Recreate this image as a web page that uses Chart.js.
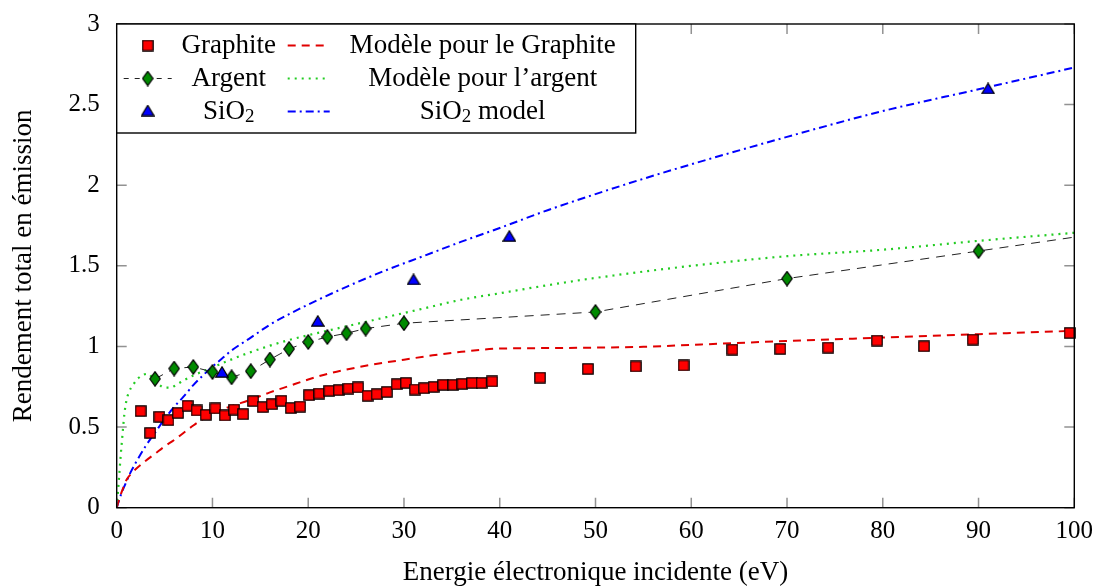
<!DOCTYPE html>
<html>
<head>
<meta charset="utf-8">
<script src="https://cdn.jsdelivr.net/npm/chart.js@4.4.0/dist/chart.umd.min.js"></script>
<style>
  html, body { margin: 0; padding: 0; background: #fff; }
</style>
</head>
<body>
<canvas id="chart" width="1097" height="586"></canvas>
<script>
// Values
const graphiteX = [2.5, 3.5, 4.45, 5.4, 6.4, 7.4, 8.35, 9.3, 10.3, 11.3, 12.25, 13.2, 14.25, 15.25, 16.2, 17.2, 18.2, 19.15, 20.1,
                   21.15, 22.2, 23.2, 24.2, 25.2, 26.2, 27.15, 28.2, 29.25, 30.2, 31.15, 32.1, 33.1, 34.1, 35.15, 36.1, 37.1, 38.1, 39.2,
                   44.2, 49.2, 54.2, 59.2, 64.3, 69.3, 74.3, 79.4, 84.3, 89.4, 99.5];
const graphiteY = [0.599, 0.464, 0.564, 0.543, 0.588, 0.632, 0.603, 0.576, 0.616, 0.572, 0.609, 0.580, 0.661, 0.624, 0.642, 0.663, 0.618, 0.627, 0.698,
                   0.708, 0.725, 0.729, 0.739, 0.746, 0.694, 0.704, 0.718, 0.766, 0.774, 0.733, 0.741, 0.749, 0.762, 0.762, 0.768, 0.774, 0.774, 0.783,
                   0.807, 0.861, 0.876, 0.882, 0.981, 0.985, 0.993, 1.037, 1.001, 1.043, 1.084];

// last point = where the dashed line leaves the frame (no marker there)
const argentX = [4, 6, 8, 10, 12, 14, 16, 18, 20, 22, 24, 26, 30, 50, 70, 90, 100];
const argentY = [0.799, 0.863, 0.873, 0.842, 0.809, 0.847, 0.919, 0.985, 1.028, 1.059, 1.082, 1.111, 1.144, 1.214, 1.421, 1.592, 1.678];

const sio2X = [11, 21, 31, 41, 91];
const sio2Y = [0.842, 1.158, 1.416, 1.685, 2.60];

const modelGraphiteX = [0, 0.3, 0.6, 1, 1.5, 2, 3, 4, 5, 6, 7, 8, 9, 10, 12, 14, 16, 18, 20, 22, 24, 26, 28, 30, 33, 36, 40, 45, 50, 55, 60, 70, 80, 90, 100];
const modelGraphiteY = [0, 0.06, 0.11, 0.17, 0.21, 0.24, 0.29, 0.335, 0.38, 0.42, 0.465, 0.51, 0.55, 0.585, 0.63, 0.67, 0.715, 0.755, 0.795, 0.83, 0.857, 0.88, 0.9, 0.918, 0.945, 0.967, 0.987, 0.99, 0.993, 0.998, 1.01, 1.034, 1.055, 1.076, 1.097];

const modelArgentX = [0, 0.2, 0.4, 0.6, 0.8, 1, 1.3, 1.7, 2.2, 2.8, 3.3, 3.8, 4.4, 5, 5.6, 6.3, 7, 8, 10, 12, 14, 16, 18, 20, 24, 28, 32, 36, 40, 45, 50, 60, 70, 80, 90, 100];
const modelArgentY = [0, 0.15, 0.31, 0.45, 0.58, 0.66, 0.72, 0.76, 0.80, 0.825, 0.83, 0.80, 0.765, 0.745, 0.745, 0.765, 0.79, 0.82, 0.87, 0.92, 0.965, 1.005, 1.04, 1.07, 1.125, 1.18, 1.235, 1.29, 1.33, 1.38, 1.425, 1.50, 1.56, 1.60, 1.655, 1.705];

const modelSio2X = [0, 0.5, 1, 1.5, 2, 3, 4, 5, 6, 7, 8, 9, 10, 11, 12, 14, 16, 18, 20, 24, 28, 32, 36, 40, 45, 50, 55, 60, 70, 80, 90, 100];
const modelSio2Y = [0, 0.09, 0.16, 0.225, 0.28, 0.38, 0.465, 0.55, 0.625, 0.69, 0.76, 0.82, 0.875, 0.925, 0.975, 1.055, 1.135, 1.2, 1.26, 1.37, 1.47, 1.56, 1.65, 1.735, 1.845, 1.945, 2.04, 2.13, 2.30, 2.46, 2.595, 2.73];

const xTicks = [0, 10, 20, 30, 40, 50, 60, 70, 80, 90, 100];
const yTicks = [0, 0.5, 1, 1.5, 2, 2.5, 3];

const FONT = '"Liberation Serif", "Times New Roman", serif';

const pts = (xs, ys) => xs.map((x, i) => ({ x: x, y: ys[i] }));

// marker images (pgfplots style: filled with black outline)
function makeMarker(w, h, drawShape, fill) {
    const c = document.createElement('canvas');
    c.width = w; c.height = h;
    const g = c.getContext('2d');
    g.beginPath();
    drawShape(g, w, h);
    g.closePath();
    g.fillStyle = fill;
    g.fill();
    g.lineWidth = 1.2;
    g.strokeStyle = '#000';
    g.stroke();
    return c;
}
const squareMark = makeMarker(12, 12, (g, w, h) => g.rect(0.8, 0.8, w - 1.6, h - 1.6), '#ff0000');
const diamondMark = makeMarker(12, 16, (g, w, h) => {
    g.moveTo(w / 2, 0.8); g.lineTo(w - 0.8, h / 2); g.lineTo(w / 2, h - 0.8); g.lineTo(0.8, h / 2);
}, '#008a00');
const triangleMark = makeMarker(14, 12, (g, w, h) => {
    g.moveTo(w / 2, 0.8); g.lineTo(w - 0.8, h - 0.8); g.lineTo(0.8, h - 0.8);
}, '#0000ff');

// text with a subscript part, e.g. SiO2
function drawParts(ctx, parts, cx, cy) {
    let total = 0;
    parts.forEach(p => {
        ctx.font = (p.sub ? '19px ' : '27px ') + FONT;
        p.w = ctx.measureText(p.t).width;
        total += p.w;
    });
    let x = cx - total / 2;
    ctx.textAlign = 'left';
    ctx.textBaseline = 'middle';
    parts.forEach(p => {
        ctx.font = (p.sub ? '19px ' : '27px ') + FONT;
        ctx.fillText(p.t, x, cy + (p.sub ? 6 : 0));
        x += p.w;
    });
}

// frame, inward ticks and the two-column legend
const framePlugin = {
    id: 'frame',
    afterDatasetsDraw(chart) {
        const ctx = chart.ctx;
        const a = chart.chartArea;
        const xs = chart.scales.x, ys = chart.scales.y;
        ctx.save();
        ctx.strokeStyle = 'rgba(110,110,110,0.75)';
        ctx.lineWidth = 1.5;
        const tl = 10;
        xTicks.forEach(v => {
            const px = xs.getPixelForValue(v);
            ctx.beginPath();
            ctx.moveTo(px, a.bottom); ctx.lineTo(px, a.bottom - tl);
            ctx.moveTo(px, a.top); ctx.lineTo(px, a.top + tl);
            ctx.stroke();
        });
        yTicks.forEach(v => {
            const py = ys.getPixelForValue(v);
            ctx.beginPath();
            ctx.moveTo(a.left, py); ctx.lineTo(a.left + tl, py);
            ctx.moveTo(a.right, py); ctx.lineTo(a.right - tl, py);
            ctx.stroke();
        });
        ctx.strokeStyle = '#000';
        ctx.lineWidth = 1.4;
        ctx.strokeRect(a.left, a.top, a.right - a.left, a.bottom - a.top);

        // legend box
        const lx = a.left, ly = a.top, lw = 519, lh = 109;
        ctx.fillStyle = '#fff';
        ctx.fillRect(lx, ly, lw, lh);
        ctx.strokeRect(lx, ly, lw, lh);

        const rows = [ly + 21.5, ly + 54.5, ly + 87.5];
        const mx = lx + 31, t1 = lx + 112, s0 = lx + 171, s1 = lx + 213, t2 = lx + 366;

        // row 1
        ctx.drawImage(squareMark, mx - 6, rows[0] - 6);
        ctx.fillStyle = '#000';
        drawParts(ctx, [{ t: 'Graphite' }], t1, rows[0]);
        ctx.strokeStyle = '#e00000'; ctx.lineWidth = 2; ctx.setLineDash([8, 6]);
        ctx.beginPath(); ctx.moveTo(s0, rows[0]); ctx.lineTo(s1, rows[0]); ctx.stroke();
        drawParts(ctx, [{ t: 'Modèle pour le Graphite' }], t2, rows[0]);

        // row 2
        ctx.strokeStyle = '#222'; ctx.lineWidth = 1; ctx.setLineDash([5, 6]);
        ctx.beginPath(); ctx.moveTo(mx - 24, rows[1]); ctx.lineTo(mx + 24, rows[1]); ctx.stroke();
        ctx.drawImage(diamondMark, mx - 6, rows[1] - 8);
        drawParts(ctx, [{ t: 'Argent' }], t1, rows[1]);
        ctx.strokeStyle = '#22cc22'; ctx.lineWidth = 2; ctx.setLineDash([2, 5]);
        ctx.beginPath(); ctx.moveTo(s0, rows[1]); ctx.lineTo(s1, rows[1]); ctx.stroke();
        drawParts(ctx, [{ t: 'Modèle pour l’argent' }], t2, rows[1]);

        // row 3
        ctx.drawImage(triangleMark, mx - 7, rows[2] - 7);
        drawParts(ctx, [{ t: 'SiO' }, { t: '2', sub: true }], t1, rows[2]);
        ctx.strokeStyle = '#0000ff'; ctx.lineWidth = 2; ctx.setLineDash([8, 4, 2, 4]);
        ctx.beginPath(); ctx.moveTo(s0, rows[2]); ctx.lineTo(s1, rows[2]); ctx.stroke();
        drawParts(ctx, [{ t: 'SiO' }, { t: '2', sub: true }, { t: ' model' }], t2, rows[2]);
        ctx.restore();
    }
};

const ctx = document.getElementById('chart').getContext('2d');
new Chart(ctx, {
    type: 'scatter',
    data: {
        datasets: [
            {
                label: 'Graphite',
                data: pts(graphiteX, graphiteY),
                pointStyle: squareMark,
                pointRadius: 6,
                showLine: false,
                clip: false
            },
            {
                label: 'SiO2',
                data: pts(sio2X, sio2Y),
                pointStyle: triangleMark,
                pointRadius: 6,
                showLine: false,
                clip: false
            },
            {
                label: 'Argent',
                data: pts(argentX, argentY),
                pointStyle: diamondMark,
                pointRadius: argentX.map((x, i) => i < argentX.length - 1 ? 6 : 0),
                showLine: true,
                borderColor: '#222',
                borderWidth: 1,
                borderDash: [9, 7],
                tension: 0
            },
            {
                label: 'Modèle pour le Graphite',
                data: pts(modelGraphiteX, modelGraphiteY),
                showLine: true,
                pointRadius: 0,
                borderColor: '#e00000',
                borderWidth: 2,
                borderDash: [8, 6],
                cubicInterpolationMode: 'monotone'
            },
            {
                label: 'Modèle pour l’argent',
                data: pts(modelArgentX, modelArgentY),
                showLine: true,
                pointRadius: 0,
                borderColor: '#22cc22',
                borderWidth: 2.2,
                borderDash: [2, 5],
                cubicInterpolationMode: 'monotone'
            },
            {
                label: 'SiO2 model',
                data: pts(modelSio2X, modelSio2Y),
                showLine: true,
                pointRadius: 0,
                borderColor: '#0000ff',
                borderWidth: 2,
                borderDash: [8, 4, 2, 4],
                cubicInterpolationMode: 'monotone'
            }
        ]
    },
    options: {
        responsive: false,
        animation: false,
        layout: { padding: { top: 23.3, right: 22.7, left: 0, bottom: 0 } },
        plugins: {
            legend: { display: false },
            tooltip: { enabled: false }
        },
        scales: {
            x: {
                type: 'linear',
                min: 0,
                max: 100,
                afterBuildTicks: s => { s.ticks = xTicks.map(v => ({ value: v })); },
                ticks: { color: '#000', font: { family: FONT, size: 25 }, padding: 1, maxRotation: 0,
                         callback: v => String(v) },
                grid: { display: false },
                border: { display: false },
                title: { display: true, text: 'Energie électronique incidente (eV)', color: '#000',
                         font: { family: FONT, size: 27, lineHeight: 1 }, padding: 0 },
                afterFit: s => { s.height = 78.3; }
            },
            y: {
                min: 0,
                max: 3,
                afterBuildTicks: s => { s.ticks = yTicks.map(v => ({ value: v })); },
                ticks: { color: '#000', font: { family: FONT, size: 25 }, padding: 9,
                         callback: v => String(v) },
                grid: { display: false },
                border: { display: false },
                title: { display: true, text: 'Rendement total en émission', color: '#000',
                         font: { family: FONT, size: 27, lineHeight: 1 }, padding: { top: 10, bottom: 0 } },
                afterFit: s => { s.width = 116.7; }
            }
        }
    },
    plugins: [framePlugin]
});
</script>
</body>
</html>
